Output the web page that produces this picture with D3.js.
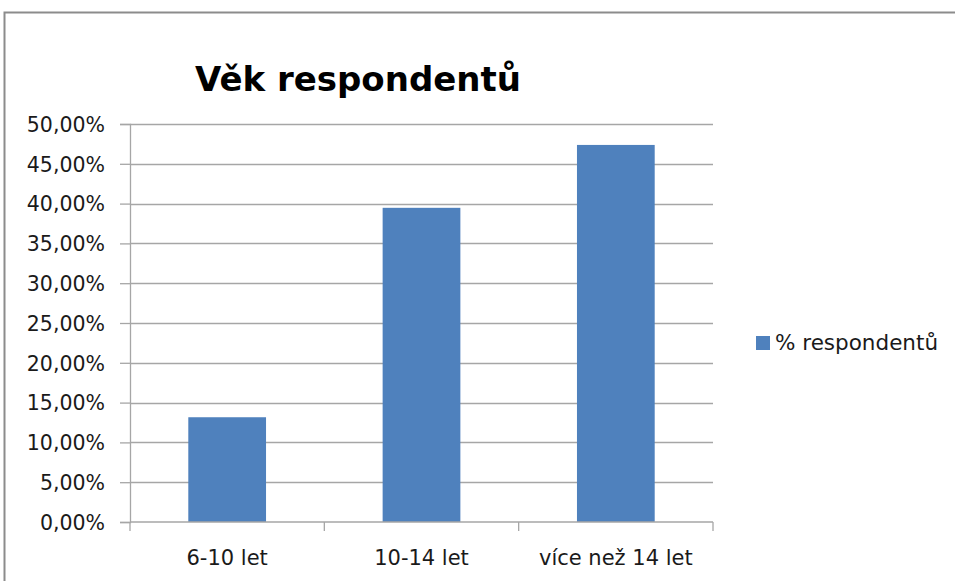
<!DOCTYPE html>
<html>
<head>
<meta charset="utf-8">
<script src="https://cdn.jsdelivr.net/npm/d3@7"></script>
<style>
  body { margin: 0; background: #fff; overflow: hidden; }
  svg { display: block; font-family: "DejaVu Sans", sans-serif; }
</style>
</head>
<body>
<div id="chart"></div>
<script>
    const categories = ["6-10 let", "10-14 let", "více než 14 let"];
    const values = [0.1316, 0.3947, 0.4737];
    const yTicks = [0, 0.05, 0.10, 0.15, 0.20, 0.25, 0.30, 0.35, 0.40, 0.45, 0.50];
    const seriesName = "% respondentů";
    const chartTitle = "Věk respondentů";

    const width = 955, height = 581;
    const plot = { left: 130, right: 713, top: 124, bottom: 522 };
    const barColor = "#4f81bd";
    const gridColor = "#a6a6a6";

    const svg = d3.select("#chart")
      .append("svg")
      .attr("width", width)
      .attr("height", height);

    // chart frame: only the top and left edges fall inside the crop
    svg.append("path")
      .attr("d", `M4.5,${height}V12.5H${width}`)
      .attr("fill", "none")
      .attr("stroke", "#8c8c8c")
      .attr("stroke-width", 2);

    const x = d3.scaleBand()
      .domain(categories)
      .range([plot.left, plot.right])
      .paddingInner(0.6)
      .paddingOuter(0.3);

    const y = d3.scaleLinear()
      .domain([0, 0.5])
      .range([plot.bottom, plot.top]);

    const fmt = v => d3.format(".2f")(v * 100).replace(".", ",") + "%";

    // gridlines
    svg.append("g")
      .selectAll("line")
      .data(yTicks.filter(d => d > 0))
      .join("line")
      .attr("x1", plot.left).attr("x2", plot.right)
      .attr("y1", d => Math.round(y(d)) + 0.5)
      .attr("y2", d => Math.round(y(d)) + 0.5)
      .attr("stroke", gridColor)
      .attr("stroke-width", 1.3);

    // y axis
    const yAxis = svg.append("g")
      .attr("transform", `translate(${plot.left},0)`)
      .call(d3.axisLeft(y).tickValues(yTicks).tickFormat(fmt).tickSize(10).tickPadding(15));
    yAxis.select(".domain").attr("stroke", gridColor).attr("stroke-width", 1.3);
    yAxis.selectAll(".tick line").attr("stroke", gridColor).attr("stroke-width", 1.3);
    yAxis.attr("font-family", null).attr("font-size", null);
    yAxis.selectAll("text")
      .attr("font-size", 20.5)
      .attr("fill", "#1a1a1a")
      .attr("dy", "0.36em");

    // bars
    svg.append("g")
      .selectAll("rect")
      .data(categories.map((c, i) => ({ c, v: values[i] })))
      .join("rect")
      .attr("x", d => x(d.c))
      .attr("y", d => y(d.v))
      .attr("width", x.bandwidth())
      .attr("height", d => y(0) - y(d.v))
      .attr("fill", barColor);

    // x axis with tick marks between categories
    const step = x.step();
    const boundaries = d3.range(categories.length + 1).map(i => plot.left + i * step);
    svg.append("line")
      .attr("x1", plot.left).attr("x2", plot.right)
      .attr("y1", plot.bottom).attr("y2", plot.bottom)
      .attr("stroke", gridColor).attr("stroke-width", 1.3);
    svg.append("g")
      .selectAll("line")
      .data(boundaries)
      .join("line")
      .attr("x1", d => d).attr("x2", d => d)
      .attr("y1", plot.bottom).attr("y2", plot.bottom + 9)
      .attr("stroke", gridColor).attr("stroke-width", 1.3);
    svg.append("g")
      .selectAll("text")
      .data(categories)
      .join("text")
      .attr("x", d => x(d) + x.bandwidth() / 2)
      .attr("y", 565)
      .attr("text-anchor", "middle")
      .attr("font-size", 21)
      .attr("fill", "#1a1a1a")
      .text(d => d);

    // title
    svg.append("text")
      .attr("x", 358)
      .attr("y", 91)
      .attr("text-anchor", "middle")
      .attr("font-size", 34)
      .attr("font-weight", "bold")
      .attr("fill", "#000")
      .text(chartTitle);

    // legend
    const legend = svg.append("g").attr("transform", "translate(756,336)");
    legend.append("rect")
      .attr("width", 14).attr("height", 14)
      .attr("fill", barColor);
    legend.append("text")
      .attr("x", 19).attr("y", 14)
      .attr("font-size", 21.5)
      .attr("fill", "#1a1a1a")
      .text(seriesName);
</script>
</body>
</html>
